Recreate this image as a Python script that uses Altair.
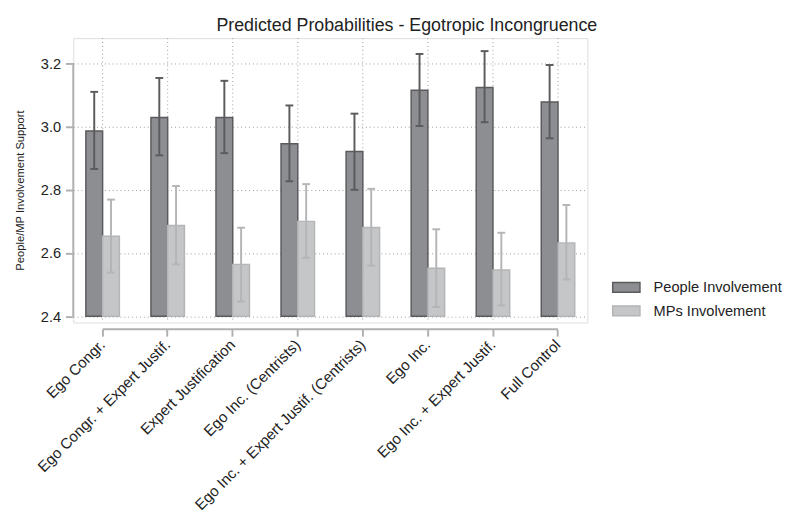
import altair as alt
import pandas as pd

categories = ["Ego Congr.", "Ego Congr. + Expert Justif.", "Expert Justification",
              "Ego Inc. (Centrists)", "Ego Inc. + Expert Justif. (Centrists)",
              "Ego Inc.", "Ego Inc. + Expert Justif.", "Full Control"]
series = ["People Involvement", "MPs Involvement"]
people = [2.986, 3.029, 3.029, 2.946, 2.921, 3.115, 3.124, 3.078]
people_lo = [2.866, 2.909, 2.916, 2.827, 2.800, 3.002, 3.014, 2.963]
people_hi = [3.110, 3.154, 3.145, 3.067, 3.041, 3.230, 3.239, 3.195]
mps = [2.653, 2.687, 2.564, 2.700, 2.681, 2.552, 2.546, 2.632]
mps_lo = [2.538, 2.564, 2.446, 2.585, 2.560, 2.429, 2.434, 2.516]
mps_hi = [2.769, 2.812, 2.680, 2.818, 2.803, 2.675, 2.664, 2.752]
y_ticks = [2.4, 2.6, 2.8, 3.0, 3.2]

rows = []
for i, c in enumerate(categories):
    rows.append({"cat": c, "series": series[0], "v": people[i], "lo": people_lo[i], "hi": people_hi[i]})
for i, c in enumerate(categories):
    rows.append({"cat": c, "series": series[1], "v": mps[i], "lo": mps_lo[i], "hi": mps_hi[i]})
df = pd.DataFrame(rows)

W, H = 528, 292
FONT = "Liberation Sans"
fill_colors = ["#8d8e92", "#c5c6c8"]
stroke_colors = ["#5b5b5e", "#b4b5b7"]
axis_gray = "#b0b0b3"

xscale = alt.Scale(domain=categories, paddingInner=0.485, paddingOuter=0.194)
yscale = alt.Scale(domain=[2.38, 3.28], nice=False, zero=False)
xoff = alt.XOffset("series:N", scale=alt.Scale(domain=series, paddingInner=0, paddingOuter=0))

x_enc = alt.X("cat:N", scale=xscale, sort=categories, title=None,
              axis=alt.Axis(labelAngle=-45, labelAlign="right", labelBaseline="middle",
                            labelFontSize=15.5, labelColor="#222222", labelFont=FONT,
                            labelPadding=6, labelLimit=0, offset=7, tickSize=7, tickWidth=2,
                            tickColor=axis_gray, domain=False, grid=False))
y_enc = alt.Y("v:Q", scale=yscale, title="People/MP Involvement Support",
              axis=alt.Axis(values=y_ticks, format=".1f", labelFontSize=15, labelColor="#222222",
                            labelFont=FONT, tickSize=8, tickWidth=2, tickColor=axis_gray,
                            domain=False, grid=True, gridDash=[1, 3], gridColor="#9a9a9a",
                            gridWidth=1, titleFontSize=11.5, titleFont=FONT, titleColor="#222222",
                            titleFontWeight="normal", titlePadding=15, titleY=156, labelPadding=5))

color_enc = alt.Color("series:N", scale=alt.Scale(domain=series, range=fill_colors), title=None,
                      legend=alt.Legend(orient="none", legendX=553, legendY=241,
                                        symbolType="M-1,-0.36H1V0.36H-1Z", symbolSize=784,
                                        symbolStrokeWidth=1.5, labelFontSize=15, labelFont=FONT,
                                        labelColor="#222222", rowPadding=-4, labelOffset=13))
stroke_enc = alt.Stroke("series:N", scale=alt.Scale(domain=series, range=stroke_colors), title=None)

vgrid = alt.Chart(pd.DataFrame({"cat": categories})).mark_rule(
    strokeDash=[1, 3], color="#9a9a9a", strokeWidth=1).encode(x=alt.X("cat:N", scale=xscale, sort=categories))

bars = alt.Chart(df).mark_bar(strokeWidth=1.5, strokeOpacity=1, opacity=1).encode(
    x=x_enc, xOffset=xoff, y=y_enc, y2=alt.datum(2.4), color=color_enc, stroke=stroke_enc)

err = alt.Chart(df).mark_rule(strokeWidth=2).encode(
    x=alt.X("cat:N", scale=xscale, sort=categories), xOffset=xoff,
    y=alt.Y("lo:Q", scale=yscale), y2="hi:Q", stroke=stroke_enc)

fill_enc = alt.Fill("series:N", scale=alt.Scale(domain=series, range=stroke_colors), legend=None)
cap_lo = alt.Chart(df).mark_tick(thickness=2, size=8, orient="horizontal", opacity=1).encode(
    x=alt.X("cat:N", scale=xscale, sort=categories), xOffset=xoff,
    y=alt.Y("lo:Q", scale=yscale), fill=fill_enc)
cap_hi = alt.Chart(df).mark_tick(thickness=2, size=8, orient="horizontal", opacity=1).encode(
    x=alt.X("cat:N", scale=xscale, sort=categories), xOffset=xoff,
    y=alt.Y("hi:Q", scale=yscale), fill=fill_enc)

yline = alt.Chart(pd.DataFrame({"a": [y_ticks[0]], "b": [y_ticks[-1]]})).mark_rule(
    color=axis_gray, strokeWidth=2).encode(x=alt.value(0), y=alt.Y("a:Q", scale=yscale), y2="b:Q")
xline = alt.Chart(pd.DataFrame({"s": [categories[0]], "e": [categories[-1]]})).mark_rule(
    color=axis_gray, strokeWidth=2).encode(
    x=alt.X("s:N", scale=xscale, sort=categories, bandPosition=0.5),
    x2=alt.X2("e", bandPosition=0.5), y=alt.value(H + 7))

chart = alt.layer(vgrid, bars, err, cap_lo, cap_hi, yline, xline).properties(
    width=W, height=H,
    title=alt.TitleParams("Predicted Probabilities - Egotropic Incongruence", fontSize=18.3,
                          font=FONT, fontWeight="normal", color="#222222", anchor="start",
                          frame="group", dx=147, offset=3),
    padding={"left": 7, "top": 1, "right": 5, "bottom": 5},
).configure_view(stroke=None).configure(background="white")

chart.save("out.html", embed_options={"renderer": "svg", "actions": False})
